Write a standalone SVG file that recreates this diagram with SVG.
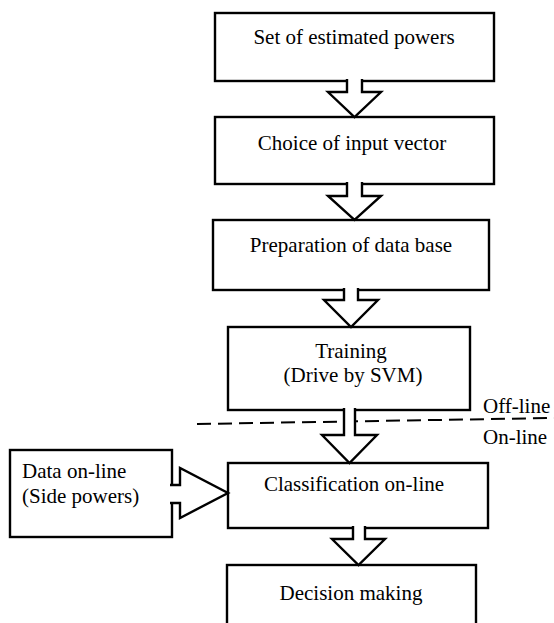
<svg xmlns="http://www.w3.org/2000/svg" width="554" height="623" viewBox="0 0 554 623">
<style>
.box{fill:#fff;stroke:#000;stroke-width:2.4}
.arr{fill:#fff;stroke:#000;stroke-width:2.4;stroke-linejoin:miter}
.t{font-size:21px;fill:#000}
.c{text-anchor:middle}
.dash{stroke:#000;stroke-width:2;stroke-dasharray:14 7;fill:none}
</style>
<rect width="554" height="623" fill="#fff"/>
<g font-family="'Liberation Serif', 'DejaVu Serif', 'Times New Roman', serif">
<g id="n1"><rect class="box" x="215" y="13" width="279" height="68"/><text class="t c" x="354" y="44">Set of estimated powers</text></g>
<g id="n2"><rect class="box" x="215" y="117" width="279" height="67"/><text class="t c" x="352" y="150">Choice of input vector</text></g>
<g id="n3"><rect class="box" x="213" y="220" width="276" height="70"/><text class="t c" x="351" y="252">Preparation of data base</text></g>
<g id="n4"><rect class="box" x="228" y="327" width="242" height="83"/><text class="t c" x="351" y="358">Training</text><text class="t c" x="353" y="382">(Drive by SVM)</text></g>
<g id="n5"><rect class="box" x="228" y="463" width="260" height="65"/><text class="t c" x="354" y="491">Classification on-line</text></g>
<g id="n6"><rect class="box" x="227" y="565" width="249" height="70"/><text class="t c" x="351" y="600">Decision making</text></g>
<g id="n7"><rect class="box" x="10" y="450" width="162" height="87"/><text class="t" x="22" y="478">Data on-line</text><text class="t" x="22" y="503">(Side powers)</text></g>
<g id="sep"><line class="dash" x1="197" y1="424" x2="554" y2="418"/><text class="t" x="483" y="413">Off-line</text><text class="t" x="483" y="444">On-line</text></g>
</g>
<g id="connectors">
<path class="arr" d="M347,79 V92 H328 L354.5,117 L381,92 H362 V79"/>
<path class="arr" d="M347,182 V196 H328 L354.5,220 L381,196 H362 V182"/>
<path class="arr" d="M344,288 V300 H324 L351,327 L378,300 H358 V288"/>
<path class="arr" d="M344,408 V435 H322 L349.5,463 L377,435 H355 V408"/>
<path class="arr" d="M353,526 V539 H332 L358.5,565 L385,539 H365 V526"/>
<path class="arr" d="M170,485 H180 V468 L228,493 L180,518 V503 H170"/>
</g>
</svg>
